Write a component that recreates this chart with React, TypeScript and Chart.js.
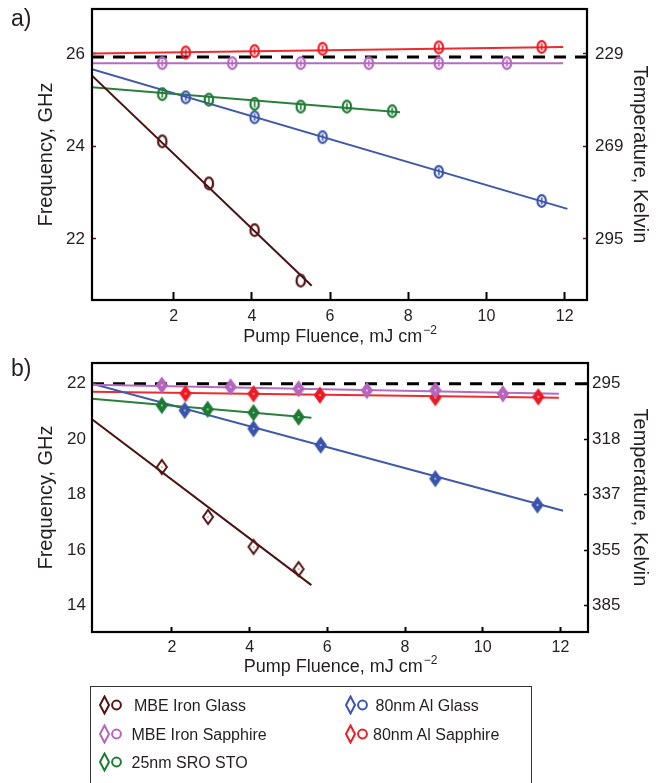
import React, { useEffect, useRef } from "react";
import { Chart, registerables } from "chart.js";
Chart.register(...registerables);

const FONT = "'Liberation Sans', Arial, Helvetica, sans-serif";
const TEXT = "#231f20";

// ---------- series ----------
const seriesNames = ["MBE Iron Glass", "MBE Iron Sapphire", "25nm SRO STO", "80nm Al Glass", "80nm Al Sapphire"];
const markColors = ["#531414", "#b466bc", "#1e7b34", "#3b55ab", "#ec1c24"];
const fitColors = ["#4a1212", "#b36cc0", "#2a7f3c", "#4059a9", "#ee2b2e"];

const xTicks = [2, 4, 6, 8, 10, 12];
const xTitle = "Pump Fluence, mJ cm";
const xTitleSup = "\u22122";

// ---------- panel a (circles) ----------
const aIronGlassX = [1.71, 2.9, 4.07, 5.25];
const aIronGlassY = [24.11, 23.2, 22.19, 21.1];
const aIronGlassFitX = [-0.087, 5.53];
const aIronGlassFitY = [25.53, 20.99];

const aIronSapphX = [1.71, 3.5, 5.25, 6.99, 8.78, 10.52];
const aIronSapphY = [25.8, 25.8, 25.8, 25.8, 25.8, 25.8];
const aIronSapphFitX = [-0.087, 11.96];
const aIronSapphFitY = [25.8, 25.8];

const aSroX = [1.71, 2.9, 4.07, 5.25, 6.43, 7.59];
const aSroY = [25.13, 25.01, 24.92, 24.86, 24.86, 24.76];
const aSroFitX = [-0.087, 7.79];
const aSroFitY = [25.28, 24.74];

const aAlGlassX = [2.31, 4.07, 5.81, 8.78, 11.41];
const aAlGlassY = [25.06, 24.63, 24.2, 23.45, 22.82];
const aAlGlassFitX = [-0.087, 12.07];
const aAlGlassFitY = [25.67, 22.65];

const aAlSapphX = [2.31, 4.07, 5.81, 8.78, 11.41];
const aAlSapphY = [26.03, 26.06, 26.11, 26.14, 26.15];
const aAlSapphFitX = [-0.087, 11.96];
const aAlSapphFitY = [26.01, 26.15];

const aRefLevel = 25.93;
const aFreqTicks = [22, 24, 26];
const aTempLabels = ["295", "269", "229"];

// ---------- panel b (diamonds) ----------
const bIronGlassX = [1.74, 2.93, 4.1, 5.26];
const bIronGlassY = [19.0, 17.2, 16.12, 15.32];
const bIronGlassFitX = [-0.057, 5.59];
const bIronGlassFitY = [20.72, 14.74];

const bIronSapphX = [1.74, 3.51, 5.26, 7.02, 8.78, 10.52];
const bIronSapphY = [21.95, 21.89, 21.82, 21.76, 21.77, 21.64];
const bIronSapphFitX = [-0.057, 11.96];
const bIronSapphFitY = [21.97, 21.64];

const bSroX = [1.74, 2.92, 4.1, 5.26];
const bSroY = [21.22, 21.08, 20.96, 20.8];
const bSroFitX = [-0.057, 5.59];
const bSroFitY = [21.46, 20.78];

const bAlGlassX = [2.33, 4.1, 5.83, 8.78, 11.41];
const bAlGlassY = [21.04, 20.38, 19.79, 18.58, 17.63];
const bAlGlassFitX = [-0.057, 12.07];
const bAlGlassFitY = [22.0, 17.42];

const bAlSapphX = [2.35, 4.1, 5.81, 8.78, 11.43];
const bAlSapphY = [21.65, 21.64, 21.59, 21.5, 21.53];
const bAlSapphFitX = [-0.057, 11.96];
const bAlSapphFitY = [21.71, 21.5];

const bRefLevel = 22.0;
const bFreqTicks = [14, 16, 18, 20, 22];
const bTempLabels = ["385", "355", "337", "318", "295"];

// ---------- helpers ----------
const pts = (xs: number[], ys: number[]) => xs.map((x, i) => ({ x, y: ys[i] }));

function makeCircle(color: string, bar: boolean) {
  const c = document.createElement("canvas");
  c.width = 14;
  c.height = 18;
  const g = c.getContext("2d")!;
  g.strokeStyle = color;
  g.lineWidth = 2.2;
  g.beginPath();
  g.ellipse(7, 9, 4.2, 5.8, 0, 0, Math.PI * 2);
  g.stroke();
  if (bar) {
    g.lineWidth = 1.6;
    g.beginPath();
    g.moveTo(7, 5.5);
    g.lineTo(7, 12.5);
    g.stroke();
  }
  return c;
}

function makeDiamond(color: string, hollow: boolean) {
  const c = document.createElement("canvas");
  c.width = 14;
  c.height = 20;
  const g = c.getContext("2d")!;
  g.beginPath();
  g.moveTo(7, 3);
  g.lineTo(12, 10);
  g.lineTo(7, 17);
  g.lineTo(2, 10);
  g.closePath();
  g.strokeStyle = color;
  g.lineWidth = 2;
  if (hollow) {
    g.stroke();
    g.fillStyle = color;
    g.fillRect(6.5, 9.5, 1, 1);
  } else {
    g.fillStyle = color;
    g.fill();
    g.stroke();
    g.fillStyle = "#fff";
    g.fillRect(6.3, 9.3, 1.4, 1.4);
  }
  return c;
}

const framePlugin = {
  id: "frame",
  afterDraw(chart: any) {
    const { ctx, chartArea } = chart;
    ctx.save();
    ctx.strokeStyle = "#000";
    ctx.lineWidth = 2.2;
    ctx.strokeRect(chartArea.left, chartArea.top, chartArea.right - chartArea.left, chartArea.bottom - chartArea.top);
    ctx.restore();
  },
};

// x-axis title with a raised superscript exponent, centred under the plot
const xTitlePlugin = {
  id: "xTitleSup",
  afterDraw(chart: any) {
    const opts = chart.options.plugins.xTitleSup;
    if (!opts) return;
    const { ctx, chartArea } = chart;
    const cx = (chartArea.left + chartArea.right) / 2;
    ctx.save();
    ctx.fillStyle = TEXT;
    ctx.textBaseline = "alphabetic";
    ctx.font = `18px ${FONT}`;
    const mainW = ctx.measureText(xTitle).width;
    ctx.font = `12px ${FONT}`;
    const supW = ctx.measureText(xTitleSup).width;
    const start = cx - (mainW + supW) / 2;
    const baseY = chartArea.bottom + opts.offset;
    ctx.font = `18px ${FONT}`;
    ctx.textAlign = "left";
    ctx.fillText(xTitle, start, baseY);
    ctx.font = `12px ${FONT}`;
    ctx.fillText(xTitleSup, start + mainW + 1, baseY - 8);
    ctx.restore();
  },
};

type PanelSpec = {
  marks: { x: number[]; y: number[] }[];
  fits: { x: number[]; y: number[] }[];
  ref: number;
  xMin: number;
  xMax: number;
  yMin: number;
  yMax: number;
  freqTicks: number[];
  tempLabels: string[];
  shape: "circle" | "diamond";
  padTop: number;
  xAxisH: number;
  xTickLen: number;
  xTickPad: number;
  xTitleOffset: number;
  yTickLen: number;
  yTickPadL: number;
  yTickPadR: number;
  yTickColor: string;
  leftTicks: boolean;
  rightW: number;
};

function buildConfig(p: PanelSpec): any {
  const datasets: any[] = [];
  p.marks.forEach((m, i) => {
    const style =
      p.shape === "circle" ? makeCircle(markColors[i], i !== 0) : makeDiamond(markColors[i], i === 0);
    datasets.push({
      label: seriesNames[i],
      data: pts(m.x, m.y),
      pointStyle: style,
      pointRadius: 6,
      showLine: false,
      borderColor: markColors[i],
      backgroundColor: markColors[i],
    });
  });
  p.fits.forEach((f, i) => {
    datasets.push({
      label: seriesNames[i] + " fit",
      data: pts(f.x, f.y),
      showLine: true,
      pointRadius: 0,
      borderWidth: 2,
      borderColor: fitColors[i],
      backgroundColor: fitColors[i],
    });
  });
  datasets.push({
    label: "reference",
    data: pts([p.xMin, p.xMax], [p.ref, p.ref]),
    showLine: true,
    pointRadius: 0,
    borderWidth: 3,
    borderDash: [12, 9],
    borderColor: "#000",
  });

  const tickMap = (v: number) => {
    const idx = p.freqTicks.indexOf(v);
    return idx >= 0 ? p.tempLabels[idx] : "";
  };

  const noPadV = (s: any) => {
    s.paddingTop = 0;
    s.paddingBottom = 0;
  };

  return {
    type: "scatter",
    data: { datasets },
    plugins: [framePlugin, xTitlePlugin],
    options: {
      animation: false,
      responsive: false,
      maintainAspectRatio: false,
      events: [],
      layout: { padding: { top: p.padTop, left: 0, right: 0, bottom: 0 } },
      plugins: { legend: { display: false }, tooltip: { enabled: false }, xTitleSup: { offset: p.xTitleOffset } },
      scales: {
        x: {
          type: "linear",
          position: "bottom",
          min: p.xMin,
          max: p.xMax,
          afterBuildTicks: (s: any) => {
            s.ticks = xTicks.map((v) => ({ value: v }));
          },
          afterFit: (s: any) => {
            s.height = p.xAxisH;
            s.paddingLeft = 0;
            s.paddingRight = 0;
          },
          grid: { drawOnChartArea: false, drawTicks: true, tickLength: -p.xTickLen, tickColor: "#000", tickWidth: 2 },
          border: { display: false },
          ticks: { padding: p.xTickPad, autoSkip: false, maxRotation: 0, color: TEXT, font: { family: FONT, size: 16 } },
          title: { display: false },
        },
        y: {
          type: "linear",
          position: "left",
          min: p.yMin,
          max: p.yMax,
          afterBuildTicks: (s: any) => {
            s.ticks = p.freqTicks.map((v) => ({ value: v }));
          },
          afterFit: (s: any) => {
            s.width = 92;
            noPadV(s);
          },
          grid: {
            drawOnChartArea: false,
            drawTicks: p.leftTicks,
            tickLength: -p.yTickLen,
            tickColor: p.yTickColor,
            tickWidth: 1.5,
          },
          border: { display: false },
          ticks: { padding: p.yTickPadL, autoSkip: false, color: TEXT, font: { family: FONT, size: 17 } },
          title: {
            display: true,
            text: "Frequency, GHz",
            color: TEXT,
            font: { family: FONT, size: 20 },
            padding: { top: 34, bottom: 0 },
          },
        },
        yR: {
          type: "linear",
          position: "right",
          min: p.yMin,
          max: p.yMax,
          afterBuildTicks: (s: any) => {
            s.ticks = p.freqTicks.map((v) => ({ value: v }));
          },
          afterFit: (s: any) => {
            s.width = p.rightW;
            noPadV(s);
          },
          grid: {
            drawOnChartArea: false,
            drawTicks: true,
            tickLength: -p.yTickLen,
            tickColor: p.yTickColor,
            tickWidth: 1.5,
          },
          border: { display: false },
          ticks: {
            padding: p.yTickPadR,
            autoSkip: false,
            color: TEXT,
            font: { family: FONT, size: 17 },
            callback: (v: number) => tickMap(v),
          },
          title: {
            display: true,
            text: "Temperature, Kelvin",
            color: TEXT,
            font: { family: FONT, size: 20 },
            padding: { top: 16, bottom: 0 },
          },
        },
      },
    },
  };
}

const panelA: PanelSpec = {
  marks: [
    { x: aIronGlassX, y: aIronGlassY },
    { x: aIronSapphX, y: aIronSapphY },
    { x: aSroX, y: aSroY },
    { x: aAlGlassX, y: aAlGlassY },
    { x: aAlSapphX, y: aAlSapphY },
  ],
  fits: [
    { x: aIronGlassFitX, y: aIronGlassFitY },
    { x: aIronSapphFitX, y: aIronSapphFitY },
    { x: aSroFitX, y: aSroFitY },
    { x: aAlGlassFitX, y: aAlGlassFitY },
    { x: aAlSapphFitX, y: aAlSapphFitY },
  ],
  ref: aRefLevel,
  xMin: -0.087,
  xMax: 12.57,
  yMin: 20.68,
  yMax: 26.97,
  freqTicks: aFreqTicks,
  tempLabels: aTempLabels,
  shape: "circle",
  padTop: 9,
  xAxisH: 45,
  xTickLen: 8,
  xTickPad: 15,
  xTitleOffset: 42,
  yTickLen: 4,
  yTickPadL: 11,
  yTickPadR: 12,
  yTickColor: "#6b1010",
  leftTicks: true,
  rightW: 81,
};

const panelB: PanelSpec = {
  marks: [
    { x: bIronGlassX, y: bIronGlassY },
    { x: bIronSapphX, y: bIronSapphY },
    { x: bSroX, y: bSroY },
    { x: bAlGlassX, y: bAlGlassY },
    { x: bAlSapphX, y: bAlSapphY },
  ],
  fits: [
    { x: bIronGlassFitX, y: bIronGlassFitY },
    { x: bIronSapphFitX, y: bIronSapphFitY },
    { x: bSroFitX, y: bSroFitY },
    { x: bAlGlassFitX, y: bAlGlassFitY },
    { x: bAlSapphFitX, y: bAlSapphFitY },
  ],
  ref: bRefLevel,
  xMin: -0.057,
  xMax: 12.71,
  yMin: 13.05,
  yMax: 22.75,
  freqTicks: bFreqTicks,
  tempLabels: bTempLabels,
  shape: "diamond",
  padTop: 18,
  xAxisH: 58,
  xTickLen: 5,
  xTickPad: 11,
  xTitleOffset: 40,
  yTickLen: 4,
  yTickPadL: 6,
  yTickPadR: 8,
  yTickColor: "#000",
  leftTicks: false,
  rightW: 80,
};

function Panel({ spec, top }: { spec: PanelSpec; top: number }) {
  const ref = useRef<HTMLCanvasElement>(null);
  useEffect(() => {
    if (!ref.current) return;
    const chart = new Chart(ref.current, buildConfig(spec));
    return () => chart.destroy();
  }, [spec]);
  return (
    <canvas
      ref={ref}
      width={668}
      height={345}
      style={{ position: "absolute", left: 0, top, width: 668, height: 345 }}
    />
  );
}

function LegendSymbol({ color, left, top }: { color: string; left: number; top: number }) {
  return (
    <svg width={26} height={20} style={{ position: "absolute", left, top }} viewBox="0 0 26 20">
      <path d="M5.5 1.5 L10 10 L5.5 18.5 L1 10 Z" fill="none" stroke={color} strokeWidth={2} />
      <circle cx={17.5} cy={10} r={4.4} fill="none" stroke={color} strokeWidth={2} />
    </svg>
  );
}

const legendLayout = [
  { sym: 99, text: 134, row: 0 },
  { sym: 99, text: 131.5, row: 1 },
  { sym: 99, text: 131.5, row: 2 },
  { sym: 345, text: 375.5, row: 0 },
  { sym: 345, text: 373, row: 1 },
];
const rowCenters = [704.5, 733.5, 761.5];

export default function App() {
  return (
    <div
      style={{
        position: "absolute",
        left: 0,
        top: 0,
        width: 668,
        height: 783,
        overflow: "hidden",
        background: "#fff",
        fontFamily: FONT,
        color: TEXT,
      }}
    >
      <Panel spec={panelA} top={0} />
      <Panel spec={panelB} top={345} />
      <div style={{ position: "absolute", left: 11, top: 7, fontSize: 23, lineHeight: "23px" }}>a)</div>
      <div style={{ position: "absolute", left: 11, top: 357, fontSize: 23, lineHeight: "23px" }}>b)</div>
      <div
        style={{
          position: "absolute",
          left: 90,
          top: 686,
          width: 442,
          height: 140,
          border: "1.5px solid #333",
          boxSizing: "border-box",
        }}
      />
      {legendLayout.map((l, i) => (
        <React.Fragment key={i}>
          <LegendSymbol color={markColors[i]} left={l.sym} top={rowCenters[l.row] - 10} />
          <div
            style={{
              position: "absolute",
              left: l.text,
              top: rowCenters[l.row] - 6.5,
              fontSize: 16,
              lineHeight: "16px",
              whiteSpace: "nowrap",
            }}
          >
            {seriesNames[i]}
          </div>
        </React.Fragment>
      ))}
    </div>
  );
}
